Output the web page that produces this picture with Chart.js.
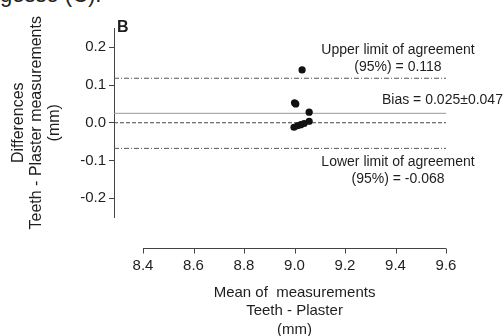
<!DOCTYPE html>
<html>
<head>
<meta charset="utf-8">
<script src="https://cdn.jsdelivr.net/npm/chart.js@4"></script>
<style>
  html, body { margin: 0; padding: 0; background: #fff; }
  #wrap { position: relative; width: 503px; height: 336px; overflow: hidden; }
  #caption { position: absolute; left: 0; top: -16px; font: 22px/22px "Liberation Sans", Arial, sans-serif; color: #222; white-space: nowrap; }
  #chart { position: absolute; left: 0; top: 0; }
</style>
</head>
<body>
<div id="wrap">
  <div id="caption">gesso (C).</div>
  <canvas id="chart" width="503" height="336"></canvas>
</div>
<script>
// means (x) and differences (y) of the paired measurements
const meanVals = [9.03, 9.0, 9.005, 9.058, 8.998, 9.012, 9.025, 9.038, 9.058];
const diffVals = [0.14, 0.053, 0.05, 0.028, -0.012, -0.008, -0.005, -0.002, 0.004];

// agreement statistics
const upperLimit = 0.118;
const biasVal = 0.025;
const biasSD = 0.047;
const lowerLimit = -0.068;

// axes
const xTicks = [8.4, 8.6, 8.8, 9.0, 9.2, 9.4, 9.6];
const yTicks = [-0.2, -0.1, 0.0, 0.1, 0.2];
const xRange = [8.285, 9.6];
const yRange = [-0.25, 0.25];

const FONT = '"Liberation Sans", Arial, Helvetica, sans-serif';
const TEXT = '#1e1e1e';

function hLine(y, color, dash) {
  return {
    type: 'line',
    data: [{ x: xRange[0], y: y }, { x: xRange[1], y: y }],
    borderColor: color,
    borderWidth: 1,
    borderDash: dash,
    pointRadius: 0,
    fill: false
  };
}

// axis line on the x scale, titles and text notes
const extras = {
  id: 'extras',
  afterDraw(chart) {
    const ctx = chart.ctx;
    const xs = chart.scales.x;
    const ys = chart.scales.y;
    const area = chart.chartArea;
    const x0 = xs.getPixelForValue(xTicks[0]);
    const x1 = xs.getPixelForValue(xTicks[xTicks.length - 1]);
    const axY = Math.round(area.bottom + 31) + 0.5;

    ctx.save();
    ctx.strokeStyle = '#444';
    ctx.lineWidth = 1;
    ctx.beginPath();
    ctx.moveTo(x0, axY);
    ctx.lineTo(x1, axY);
    xTicks.forEach(v => {
      const px = Math.round(xs.getPixelForValue(v)) + 0.5;
      ctx.moveTo(px, axY);
      ctx.lineTo(px, axY + 5);
    });
    ctx.stroke();

    ctx.fillStyle = TEXT;
    ctx.textAlign = 'center';
    ctx.textBaseline = 'middle';
    ctx.font = '15px ' + FONT;
    const cx = (x0 + x1) / 2;
    ['Mean of  measurements', 'Teeth - Plaster', '(mm)'].forEach((t, i) => {
      ctx.fillText(t, cx, area.bottom + 75.5 + i * 18.5);
    });

    // notes on the limit lines
    ctx.font = '14px ' + FONT;
    const nx = area.right - 48;
    const yU = ys.getPixelForValue(upperLimit);
    ctx.fillText('Upper limit of agreement', nx, yU - 28);
    ctx.fillText('(95%) = ' + upperLimit.toFixed(3), nx, yU - 11);
    const yL = ys.getPixelForValue(lowerLimit);
    ctx.fillText('Lower limit of agreement', nx, yL + 14);
    ctx.fillText('(95%) = ' + lowerLimit.toFixed(3), nx, yL + 31);
    const yB = ys.getPixelForValue(biasVal);
    ctx.textAlign = 'left';
    ctx.fillText('Bias = ' + biasVal.toFixed(3) + '\u00b1' + biasSD.toFixed(3), area.right - 64, yB - 13);

    ctx.font = 'bold 16px ' + FONT;
    ctx.textBaseline = 'alphabetic';
    ctx.fillText('B', area.left + 3, 32);
    ctx.restore();
  }
};

new Chart(document.getElementById('chart'), {
  type: 'scatter',
  data: {
    datasets: [
      {
        data: meanVals.map((x, i) => ({ x: x, y: diffVals[i] })),
        backgroundColor: '#111',
        borderWidth: 0,
        pointRadius: 3.6,
        pointHoverRadius: 3.6
      },
      hLine(upperLimit, '#555', [5, 2, 1, 2]),
      hLine(biasVal, '#9a9a9a', []),
      hLine(0, '#444', [4, 2]),
      hLine(lowerLimit, '#555', [5, 2, 1, 2])
    ]
  },
  plugins: [extras],
  options: {
    responsive: false,
    animation: false,
    events: [],
    layout: { padding: { top: 28.5, right: 57, left: 0, bottom: 0 } },
    plugins: {
      legend: { display: false },
      tooltip: { enabled: false }
    },
    scales: {
      x: {
        type: 'linear',
        min: xRange[0],
        max: xRange[1],
        afterBuildTicks: s => { s.ticks = xTicks.map(v => ({ value: v })); },
        afterFit: s => { s.height = 119; },
        grid: { display: false },
        border: { display: false },
        ticks: {
          padding: 32,
          color: TEXT,
          font: { family: FONT, size: 15 },
          callback: v => v.toFixed(1)
        }
      },
      y: {
        min: yRange[0],
        max: yRange[1],
        afterBuildTicks: s => { s.ticks = yTicks.map(v => ({ value: v })); },
        afterFit: s => { s.width = 114; },
        grid: { drawOnChartArea: false, drawTicks: true, tickLength: 5, color: '#444' },
        border: { display: true, color: '#444', width: 1 },
        ticks: {
          padding: 3,
          color: TEXT,
          font: { family: FONT, size: 15 },
          callback: v => v.toFixed(1)
        },
        title: {
          display: true,
          text: ['Differences', 'Teeth - Plaster measurements', '(mm)'],
          color: TEXT,
          font: { family: FONT, size: 16, lineHeight: 1.125 },
          padding: { top: 10, bottom: 0 }
        }
      }
    }
  }
});
</script>
</body>
</html>
